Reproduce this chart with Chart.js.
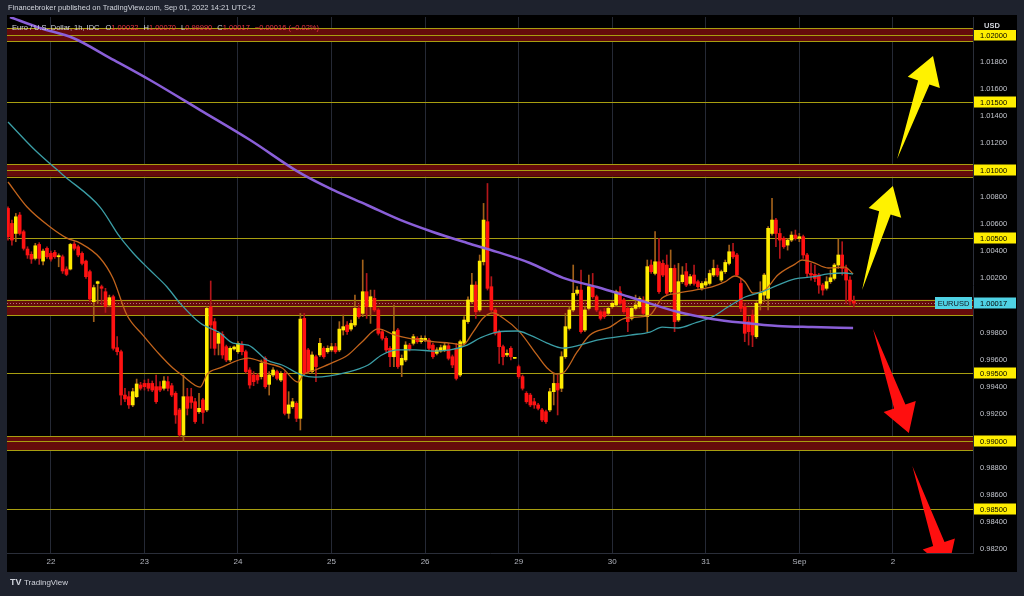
<!DOCTYPE html>
<html lang="en">

<head>
    <meta charset="utf-8" />
    <title>Euro / U.S. Dollar, 1h</title>
    <script src="https://cdn.jsdelivr.net/npm/chart.js@4.4.0/dist/chart.umd.min.js"></script>
    <style>
        html, body { margin: 0; padding: 0; background: #1e222d; }
        canvas { display: block; }
    </style>
</head>

<body>
    <canvas id="myChart" width="1024" height="596"></canvas>

    <script>
        // hourly candles, index 0 = first visible bar, index 217 = Sep 01 14:00
        const opens = [
            1.00717, 1.00606, 1.00532, 1.00668, 1.00545, 1.00417, 1.00378, 1.00348, 1.00451, 1.00328,
            1.00422, 1.00385, 1.00392, 1.00360, 1.00360, 1.00269, 1.00269, 1.00454, 1.00434, 1.00385,
            1.00328, 1.00250, 1.00028, 1.00163, 1.00139, 1.00102, 1.00004, 1.00065, 0.99689, 0.99659,
            0.99339, 0.99327, 0.99266, 0.99327, 0.99413, 0.99425, 0.99425, 0.99425, 0.99401, 0.99401,
            0.99389, 0.99438, 0.99408, 0.99352, 0.99229, 0.99044, 0.99327, 0.99327, 0.99290, 0.99216,
            0.99303, 0.99229, 0.99991, 0.99881, 0.99721, 0.99787, 0.99696, 0.99598, 0.99679, 0.99659,
            0.99713, 0.99659, 0.99524, 0.99487, 0.99487, 0.99475, 0.99610, 0.99418, 0.99487, 0.99512,
            0.99450, 0.99499, 0.99204, 0.99253, 0.99278, 0.99167, 0.99905, 0.99672, 0.99512, 0.99622,
            0.99635, 0.99684, 0.99659, 0.99672, 0.99696, 0.99672, 0.99819, 0.99856, 0.99826, 0.99856,
            0.99979, 0.99942, 1.00102, 0.99991, 1.00053, 0.99967, 0.99807, 0.99758, 0.99684, 0.99622,
            0.99819, 0.99561, 0.99598, 0.99708, 0.99721, 0.99758, 0.99733, 0.99745, 0.99745, 0.99708,
            0.99647, 0.99664, 0.99672, 0.99703, 0.99622, 0.99684, 0.99487, 0.99721, 0.99881, 1.00028,
            1.00151, 0.99967, 1.00323, 1.00619, 1.00139, 0.99967, 0.99807, 0.99696, 0.99635, 0.99684,
            0.99610, 0.99549, 0.99475, 0.99352, 0.99339, 0.99290, 0.99266, 0.99229, 0.99216, 0.99229,
            0.99364, 0.99425, 0.99389, 0.99622, 0.99831, 0.99967, 1.00090, 1.00114, 0.99819, 0.99979,
            1.00139, 1.00065, 0.99954, 0.99954, 0.99942, 0.99991, 1.00004, 1.00102, 1.00041, 0.99979,
            0.99905, 0.99979, 0.99991, 1.00041, 0.99918, 1.00299, 1.00237, 1.00323, 1.00311, 1.00299,
            1.00102, 1.00274, 0.99893, 1.00176, 1.00250, 1.00163, 1.00225, 1.00176, 1.00127, 1.00151,
            1.00163, 1.00225, 1.00274, 1.00188, 1.00250, 1.00311, 1.00397, 1.00373, 1.00163, 0.99991,
            0.99881, 0.99930, 0.99770, 1.00016, 1.00077, 1.00053, 1.00532, 1.00631, 1.00532, 1.00496,
            1.00446, 1.00483, 1.00520, 1.00496, 1.00508, 1.00373, 1.00237, 1.00230, 1.00225, 1.00151,
            1.00127, 1.00176, 1.00200, 1.00299, 1.00373, 1.00274, 1.00188, 1.00032
        ];
        const highs = [
            1.00729, 1.00631, 1.00680, 1.00687, 1.00557, 1.00434, 1.00397, 1.00459, 1.00464, 1.00417,
            1.00434, 1.00402, 1.00407, 1.00382, 1.00373, 1.00286, 1.00459, 1.00471, 1.00446, 1.00397,
            1.00336, 1.00262, 1.00151, 1.00181, 1.00151, 1.00127, 1.00077, 1.00077, 0.99770, 0.99671,
            0.99389, 0.99364, 0.99389, 0.99457, 0.99433, 0.99450, 0.99457, 0.99443, 0.99487, 0.99438,
            0.99475, 0.99475, 0.99425, 0.99364, 0.99241, 0.99487, 0.99389, 0.99389, 0.99315, 0.99352,
            0.99315, 0.99991, 1.00181, 0.99905, 0.99807, 0.99807, 0.99708, 0.99696, 0.99703, 0.99733,
            0.99733, 0.99671, 0.99541, 0.99512, 0.99499, 0.99598, 0.99622, 0.99512, 0.99541, 0.99524,
            0.99512, 0.99512, 0.99364, 0.99315, 0.99290, 0.99942, 0.99942, 0.99684, 0.99659, 0.99635,
            0.99758, 0.99696, 0.99703, 0.99721, 0.99721, 0.99881, 0.99930, 0.99881, 0.99893, 1.00077,
            1.00004, 1.00336, 1.00237, 1.00114, 1.00114, 0.99979, 0.99819, 0.99770, 0.99696, 1.00004,
            0.99831, 0.99635, 0.99733, 0.99721, 0.99787, 0.99770, 0.99777, 0.99777, 0.99758, 0.99721,
            0.99689, 0.99708, 0.99721, 0.99721, 0.99635, 0.99721, 0.99745, 0.99918, 1.00065, 1.00237,
            1.00176, 1.00373, 1.00754, 1.00901, 1.00213, 0.99979, 0.99819, 0.99708, 0.99672, 0.99696,
            0.99615, 0.99561, 0.99487, 0.99364, 0.99352, 0.99315, 0.99278, 0.99241, 0.99229, 0.99389,
            0.99499, 0.99487, 0.99659, 0.99942, 0.99991, 1.00299, 1.00139, 1.00262, 0.99991, 1.00225,
            1.00237, 1.00077, 0.99967, 0.99979, 0.99991, 1.00028, 1.00114, 1.00139, 1.00053, 0.99991,
            0.99991, 1.00077, 1.00065, 1.00065, 1.00336, 1.00336, 1.00545, 1.00496, 1.00336, 1.00373,
            1.00410, 1.00299, 1.00311, 1.00287, 1.00311, 1.00230, 1.00299, 1.00188, 1.00176, 1.00200,
            1.00262, 1.00336, 1.00299, 1.00262, 1.00336, 1.00446, 1.00459, 1.00385, 1.00200, 1.00016,
            0.99918, 0.99967, 1.00028, 1.00176, 1.00237, 1.00582, 1.00791, 1.00643, 1.00569, 1.00508,
            1.00496, 1.00545, 1.00557, 1.00532, 1.00520, 1.00385, 1.00311, 1.00299, 1.00237, 1.00163,
            1.00213, 1.00262, 1.00311, 1.00491, 1.00471, 1.00299, 1.00213, 1.00070
        ];
        const lows = [
            1.00483, 1.00446, 1.00471, 1.00520, 1.00409, 1.00348, 1.00311, 1.00336, 1.00304, 1.00299,
            1.00348, 1.00328, 1.00348, 1.00286, 1.00237, 1.00220, 1.00262, 1.00409, 1.00360, 1.00299,
            1.00200, 1.00028, 0.99881, 1.00016, 1.00004, 0.99949, 0.99991, 0.99671, 0.99635, 0.99266,
            0.99290, 0.99241, 0.99253, 0.99320, 0.99376, 0.99376, 0.99369, 0.99364, 0.99278, 0.99364,
            0.99376, 0.99369, 0.99327, 0.99130, 0.99032, 0.98995, 0.99192, 0.99241, 0.99130, 0.99204,
            0.99130, 0.99216, 0.99684, 0.99635, 0.99635, 0.99610, 0.99585, 0.99585, 0.99671, 0.99647,
            0.99635, 0.99499, 0.99389, 0.99408, 0.99425, 0.99457, 0.99389, 0.99339, 0.99475, 0.99450,
            0.99438, 0.99192, 0.99167, 0.99241, 0.99143, 0.99081, 0.99487, 0.99499, 0.99499, 0.99438,
            0.99622, 0.99610, 0.99647, 0.99659, 0.99647, 0.99659, 0.99782, 0.99787, 0.99812, 0.99844,
            0.99905, 0.99918, 0.99905, 0.99868, 0.99954, 0.99782, 0.99745, 0.99659, 0.99549, 0.99549,
            0.99536, 0.99475, 0.99585, 0.99664, 0.99708, 0.99721, 0.99721, 0.99733, 0.99672, 0.99610,
            0.99635, 0.99654, 0.99659, 0.99598, 0.99541, 0.99450, 0.99475, 0.99708, 0.99868, 1.00016,
            0.99905, 0.99954, 1.00299, 1.00114, 0.99954, 0.99782, 0.99573, 0.99561, 0.99622, 0.99598,
            0.99610, 0.99462, 0.99376, 0.99278, 0.99253, 0.99241, 0.99229, 0.99143, 0.99130, 0.99216,
            0.99266, 0.99192, 0.99364, 0.99610, 0.99819, 0.99954, 1.00077, 0.99795, 0.99807, 0.99967,
            1.00053, 0.99954, 0.99893, 0.99905, 0.99930, 0.99979, 0.99991, 1.00004, 0.99942, 0.99807,
            0.99893, 0.99967, 0.99979, 0.99930, 0.99807, 1.00237, 1.00225, 1.00090, 1.00213, 1.00077,
            1.00090, 0.99807, 0.99881, 1.00163, 1.00139, 1.00151, 1.00151, 1.00127, 1.00114, 1.00139,
            1.00151, 1.00213, 1.00213, 1.00176, 1.00237, 1.00299, 1.00348, 1.00213, 0.99954, 0.99733,
            0.99708, 0.99696, 0.99758, 0.99967, 1.00028, 0.99967, 1.00520, 1.00434, 1.00348, 1.00422,
            1.00409, 1.00471, 1.00483, 1.00471, 1.00348, 1.00213, 1.00188, 1.00176, 1.00090, 1.00077,
            1.00114, 1.00163, 1.00188, 1.00274, 1.00225, 1.00016, 1.00004, 0.99990
        ];
        const closes = [
            1.00508, 1.00483, 1.00655, 1.00532, 1.00422, 1.00373, 1.00343, 1.00441, 1.00348, 1.00402,
            1.00360, 1.00343, 1.00360, 1.00368, 1.00255, 1.00230, 1.00451, 1.00422, 1.00373, 1.00311,
            1.00213, 1.00048, 1.00132, 1.00176, 1.00127, 0.99991, 1.00058, 0.99684, 0.99659, 0.99339,
            0.99310, 0.99266, 0.99364, 0.99421, 0.99389, 0.99401, 0.99389, 0.99376, 0.99290, 0.99376,
            0.99443, 0.99389, 0.99339, 0.99192, 0.99044, 0.99327, 0.99241, 0.99285, 0.99143, 0.99241,
            0.99211, 0.99979, 0.99856, 0.99684, 0.99795, 0.99635, 0.99598, 0.99684, 0.99694, 0.99721,
            0.99659, 0.99512, 0.99413, 0.99438, 0.99450, 0.99573, 0.99401, 0.99487, 0.99524, 0.99462,
            0.99499, 0.99204, 0.99266, 0.99290, 0.99167, 0.99900, 0.99499, 0.99512, 0.99635, 0.99549,
            0.99721, 0.99622, 0.99684, 0.99696, 0.99659, 0.99826, 0.99844, 0.99807, 0.99868, 0.99979,
            0.99918, 1.00102, 0.99991, 1.00065, 0.99967, 0.99795, 0.99758, 0.99672, 0.99622, 0.99807,
            0.99549, 0.99610, 0.99708, 0.99679, 0.99770, 0.99733, 0.99758, 0.99758, 0.99684, 0.99622,
            0.99672, 0.99689, 0.99703, 0.99610, 0.99561, 0.99462, 0.99733, 0.99893, 1.00041, 1.00151,
            0.99954, 1.00328, 1.00631, 1.00127, 0.99967, 0.99795, 0.99696, 0.99622, 0.99647, 0.99622,
            0.99615, 0.99475, 0.99389, 0.99290, 0.99266, 0.99266, 0.99241, 0.99155, 0.99143, 0.99364,
            0.99425, 0.99376, 0.99622, 0.99844, 0.99967, 1.00090, 1.00114, 0.99807, 0.99967, 1.00139,
            1.00065, 0.99967, 0.99905, 0.99918, 0.99979, 1.00016, 1.00102, 1.00016, 0.99954, 0.99881,
            0.99979, 1.00004, 1.00053, 0.99942, 1.00287, 1.00250, 1.00323, 1.00102, 1.00225, 1.00090,
            1.00274, 0.99881, 1.00176, 1.00225, 1.00151, 1.00213, 1.00163, 1.00139, 1.00163, 1.00176,
            1.00237, 1.00274, 1.00225, 1.00250, 1.00318, 1.00397, 1.00360, 1.00225, 0.99979, 0.99795,
            0.99807, 0.99782, 1.00016, 1.00090, 1.00225, 1.00570, 1.00631, 1.00532, 1.00483, 1.00434,
            1.00483, 1.00520, 1.00496, 1.00508, 1.00373, 1.00237, 1.00225, 1.00200, 1.00151, 1.00114,
            1.00176, 1.00205, 1.00299, 1.00373, 1.00274, 1.00188, 1.00033, 1.00017
        ];

        // moving averages (x = bar index)
        const ma20X = [0, 4.9, 10.8, 15.1, 18.5, 23.6, 26.9, 30.5, 34.6, 39.0, 42.3, 44.6, 49.3, 51.1, 54.4, 61.6,
            65.9, 70.3, 74.4, 75.7, 78.8, 83.1, 87.2, 90.8, 94.9, 99.3, 102.6, 106.2, 109.5, 113.4, 116.7, 119.3,
            121.9, 124.4, 127.0, 131.3, 135.7, 138.3, 140.8, 142.4, 146.0, 149.3, 154.4, 157.8, 161.4, 164.7,
            167.8, 171.9, 176.2, 180.6, 183.9, 186.5, 189.1, 191.1, 194.2, 197.5, 201.9, 203.7, 206.3, 210.4,
            214.7, 216.8];
        const ma20Y = [1.00912, 1.00727, 1.00580, 1.00498, 1.00461, 1.00351, 1.00203, 0.99930, 0.99782, 0.99635,
            0.99539, 0.99487, 0.99398, 0.99494, 0.99539, 0.99612, 0.99576, 0.99539, 0.99435, 0.99487, 0.99524,
            0.99576, 0.99635, 0.99731, 0.99827, 0.99782, 0.99760, 0.99745, 0.99731, 0.99723, 0.99708, 0.99804,
            0.99908, 0.99945, 0.99908, 0.99804, 0.99635, 0.99539, 0.99494, 0.99502, 0.99657, 0.99782, 0.99841,
            0.99901, 0.99915, 0.99930, 1.00055, 1.00092, 1.00114, 1.00137, 1.00174, 1.00218, 1.00174, 1.00092,
            1.00114, 1.00225, 1.00306, 1.00336, 1.00321, 1.00277, 1.00284, 1.00233];

        const ma50X = [0, 6.9, 14.1, 23.6, 28.7, 32.1, 36.4, 40.8, 44.1, 49.3, 54.4, 57.7, 61.6, 66.4, 70.3, 75.4,
            78.8, 87.2, 92.4, 95.9, 100.1, 104.4, 109.5, 113.4, 117.8, 121.1, 125.4, 130.6, 133.9, 138.3, 142.4,
            146.7, 151.1, 159.6, 164.7, 167.8, 171.9, 176.2, 180.6, 184.7, 189.1, 193.4, 197.5, 201.9, 206.3,
            210.4, 214.7, 216.8];
        const ma50Y = [1.01355, 1.01148, 1.00964, 1.00727, 1.00506, 1.00388, 1.00262, 1.00137, 1.00018, 0.99871,
            0.99797, 0.99723, 0.99708, 0.99598, 0.99561, 0.99487, 0.99472, 0.99509, 0.99561, 0.99635, 0.99672,
            0.99672, 0.99664, 0.99672, 0.99708, 0.99760, 0.99804, 0.99812, 0.99782, 0.99723, 0.99686, 0.99708,
            0.99745, 0.99782, 0.99804, 0.99841, 0.99834, 0.99871, 0.99915, 0.99989, 1.00063, 1.00100, 1.00151,
            1.00196, 1.00211, 1.00233, 1.00240, 1.00233];

        const ma200X = [0.5, 8.2, 16.7, 26.2, 36.4, 49.3, 62.1, 74.9, 83.4, 92.1, 100.6, 109, 117.8, 125.4, 133.9,
            142.4, 151.1, 159.5, 171.9, 180.6, 189.1, 197.5, 206.3, 216.8];
        const ma200Y = [1.02130, 1.02049, 1.01975, 1.01827, 1.01665, 1.01443, 1.01222, 1.00979, 1.00853, 1.00742,
            1.00632, 1.00543, 1.00462, 1.00396, 1.00314, 1.00204, 1.00137, 1.00063, 0.99952, 0.99901, 0.99871,
            0.99849, 0.99841, 0.99834];

        // axis ticks
        const dayTicks = [11, 35, 59, 83, 107, 131, 155, 179, 203, 227];
        const dayLabels = ["22", "23", "24", "25", "26", "29", "30", "31", "Sep", "2"];
        const priceTicks = [1.020, 1.018, 1.016, 1.014, 1.012, 1.010, 1.008, 1.006, 1.004, 1.002, 1.000,
            0.998, 0.996, 0.994, 0.992, 0.990, 0.988, 0.986, 0.984, 0.982];

        // drawn levels and zones
        const levels = [1.015, 1.005, 0.995, 0.985];
        const zoneMid = [1.020, 1.010, 1.000, 0.990];
        const zoneTop = [1.02049, 1.01045, 1.00043, 0.99036];
        const zoneBottom = [1.01953, 1.00951, 0.99928, 0.98933];
        const levelLabels = [1.020, 1.015, 1.010, 1.005, 0.995, 0.990, 0.985];
        const lastPrice = 1.00017;

        // arrows: tail and tip in (bar index, price)
        const arrowTailX = [228.1, 219.1, 221.9, 232.0];
        const arrowTailY = [1.01082, 1.00114, 0.99827, 0.98815];
        const arrowTipX = [237.3, 227.0, 231.1, 241.1];
        const arrowTipY = [1.01842, 1.00882, 0.99059, 0.98044];
        const arrowUp = [true, true, false, false];

        const FONT = "'Liberation Sans', Arial, sans-serif";
        const UP = "#ffec00";
        const DOWN = "#ff1212";
        const WICK_UP = "#a2611a";
        const WICK_DOWN = "#b3161a";
        const ZONE_FILL = "#650b0b";
        const LEVEL = "#a89e10";
        const RED_TEXT = "#f23645";
        const CYAN = "#4fd2e4";

        let bodyColors = opens.map((o, i) => (closes[i] >= o ? UP : DOWN));
        let wickColors = opens.map((o, i) => (closes[i] >= o ? WICK_UP : WICK_DOWN));

        let toPoints = (xs, ys) => xs.map((x, i) => ({ x: x, y: ys[i] }));

        let hline = (ctx, a, py, color) => {
            ctx.strokeStyle = color;
            ctx.lineWidth = 1;
            ctx.beginPath();
            ctx.moveTo(a.left, Math.round(py) + 0.5);
            ctx.lineTo(a.right, Math.round(py) + 0.5);
            ctx.stroke();
        };

        let drawArrow = (ctx, x0, y0, x1, y1, color) => {
            let dx = x1 - x0, dy = y1 - y0;
            let len = Math.hypot(dx, dy);
            let ux = dx / len, uy = dy / len;
            let nx = -uy, ny = ux;
            let bx = x1 - ux * 28, by = y1 - uy * 28;
            ctx.fillStyle = color;
            ctx.beginPath();
            ctx.moveTo(x0, y0);
            ctx.lineTo(bx + nx * 6, by + ny * 6);
            ctx.lineTo(bx + nx * 17, by + ny * 17);
            ctx.lineTo(x1, y1);
            ctx.lineTo(bx - nx * 17, by - ny * 17);
            ctx.lineTo(bx - nx * 6, by - ny * 6);
            ctx.closePath();
            ctx.fill();
        };

        let axisBox = (ctx, left, py, text, bg) => {
            ctx.fillStyle = bg;
            ctx.fillRect(left + 1, Math.round(py) - 5.5, 42, 11);
            ctx.fillStyle = "#000000";
            ctx.font = "7.5px " + FONT;
            ctx.textAlign = "left";
            ctx.textBaseline = "middle";
            ctx.fillText(text, left + 7, Math.round(py) + 0.5);
        };

        const decor = {
            id: "decor",
            beforeDraw: (chart) => {
                let ctx = chart.ctx, a = chart.chartArea;
                ctx.save();
                ctx.fillStyle = "#1e222d";
                ctx.fillRect(0, 0, chart.width, chart.height);
                ctx.fillStyle = "#000000";
                ctx.fillRect(a.left, a.top - 2, a.right - a.left + 44, a.bottom - a.top + 21);
                ctx.restore();
            },
            beforeDatasetsDraw: (chart) => {
                let ctx = chart.ctx, a = chart.chartArea, y = chart.scales.y;
                ctx.save();
                ctx.beginPath();
                ctx.rect(a.left, a.top, a.right - a.left, a.bottom - a.top);
                ctx.clip();
                zoneMid.forEach((m, k) => {
                    let yt = y.getPixelForValue(zoneTop[k]);
                    let yb = y.getPixelForValue(zoneBottom[k]);
                    ctx.fillStyle = ZONE_FILL;
                    ctx.fillRect(a.left, yt, a.right - a.left, yb - yt);
                    hline(ctx, a, yt, LEVEL);
                    hline(ctx, a, y.getPixelForValue(m), LEVEL);
                    hline(ctx, a, yb, LEVEL);
                });
                levels.forEach((v) => hline(ctx, a, y.getPixelForValue(v), LEVEL));

                // last price dotted line
                let py = Math.round(y.getPixelForValue(lastPrice)) + 0.5;
                ctx.setLineDash([1, 2]);
                ctx.strokeStyle = "#b86f78";
                ctx.beginPath();
                ctx.moveTo(a.left, py);
                ctx.lineTo(a.right - 38, py);
                ctx.stroke();
                ctx.restore();
            },
            afterDatasetsDraw: (chart) => {
                let ctx = chart.ctx, a = chart.chartArea;
                let x = chart.scales.x, y = chart.scales.y;
                ctx.save();
                ctx.beginPath();
                ctx.rect(a.left, a.top, a.right - a.left, a.bottom - a.top);
                ctx.clip();
                arrowTailX.forEach((tx, k) => {
                    drawArrow(ctx,
                        x.getPixelForValue(tx), y.getPixelForValue(arrowTailY[k]),
                        x.getPixelForValue(arrowTipX[k]), y.getPixelForValue(arrowTipY[k]),
                        arrowUp[k] ? "#fff200" : "#ff0f0f");
                });
                ctx.restore();

                ctx.save();
                // legend line of the symbol
                let parts = [
                    ["Euro / U.S. Dollar, 1h, IDC", "#d1d4dc", 6],
                    ["O", "#d1d4dc", 0], ["1.00032", RED_TEXT, 5],
                    ["H", "#d1d4dc", 0], ["1.00070", RED_TEXT, 5],
                    ["L", "#d1d4dc", 0], ["0.99990", RED_TEXT, 5],
                    ["C", "#d1d4dc", 0], ["1.00017", RED_TEXT, 5],
                    ["\u22120.00016 (\u22120.02%)", RED_TEXT, 0]
                ];
                ctx.font = "7.5px " + FONT;
                ctx.textBaseline = "middle";
                ctx.textAlign = "left";
                let px = a.left + 5;
                parts.forEach((p) => {
                    ctx.fillStyle = p[1];
                    ctx.fillText(p[0], px, a.top + 11);
                    px += ctx.measureText(p[0]).width + p[2];
                });

                // right axis labels
                let axLeft = a.right;
                levelLabels.forEach((v) => axisBox(ctx, axLeft, y.getPixelForValue(v), v.toFixed(5), "#ffee00"));
                axisBox(ctx, axLeft, y.getPixelForValue(lastPrice), lastPrice.toFixed(5), CYAN);
                ctx.fillStyle = "#000000";
                ctx.fillRect(axLeft + 1, a.top - 2, 43, 15);
                ctx.fillStyle = "#d1d4dc";
                ctx.font = "bold 7.5px " + FONT;
                ctx.textAlign = "left";
                ctx.fillText("USD", axLeft + 11, a.top + 9);

                // series tag
                let py = Math.round(y.getPixelForValue(lastPrice));
                ctx.fillStyle = CYAN;
                ctx.fillRect(axLeft - 38, py - 6, 37, 12);
                ctx.fillStyle = "#131722";
                ctx.font = "7.5px " + FONT;
                ctx.textAlign = "center";
                ctx.fillText("EURUSD", axLeft - 19.5, py + 0.5);

                // header and footer
                ctx.textAlign = "left";
                ctx.fillStyle = "#d1d4dc";
                ctx.font = "7.5px " + FONT;
                ctx.fillText("Financebroker published on TradingView.com, Sep 01, 2022 14:21 UTC+2", 8, 8);
                ctx.font = "bold 9px " + FONT;
                ctx.fillText("TV", 10, 583);
                ctx.font = "8px " + FONT;
                ctx.fillText("TradingView", 24, 583);
                ctx.restore();
            }
        };

        let showChart = () => {
            let ctx = document.getElementById("myChart");
            new Chart(ctx, {
                type: "bar",
                data: {
                    datasets: [
                        {
                            type: "line",
                            label: "MA 200",
                            data: toPoints(ma200X, ma200Y),
                            borderColor: "#8a5fd8",
                            borderWidth: 2.5,
                            pointRadius: 0,
                            cubicInterpolationMode: "monotone",
                            clip: 0,
                            order: 0,
                        },
                        {
                            type: "line",
                            label: "MA 50",
                            data: toPoints(ma50X, ma50Y),
                            borderColor: "#3b9ea6",
                            borderWidth: 1.3,
                            pointRadius: 0,
                            cubicInterpolationMode: "monotone",
                            clip: 0,
                            order: 0,
                        },
                        {
                            type: "line",
                            label: "MA 20",
                            data: toPoints(ma20X, ma20Y),
                            borderColor: "#c2641c",
                            borderWidth: 1.3,
                            pointRadius: 0,
                            cubicInterpolationMode: "monotone",
                            clip: 0,
                            order: 0,
                        },
                        {
                            label: "Body",
                            data: opens.map((o, i) => ({ x: i, y: [o, closes[i]] })),
                            backgroundColor: bodyColors,
                            borderWidth: 0,
                            barThickness: 3,
                            minBarLength: 1,
                            grouped: false,
                            order: 1,
                        },
                        {
                            label: "Wick",
                            data: lows.map((l, i) => ({ x: i, y: [l, highs[i]] })),
                            backgroundColor: wickColors,
                            borderWidth: 0,
                            barThickness: 1,
                            minBarLength: 1,
                            grouped: false,
                            order: 2,
                        },
                    ],
                },
                options: {
                    responsive: false,
                    devicePixelRatio: 1,
                    animation: false,
                    events: [],
                    layout: { padding: { left: 7, top: 17, right: 6, bottom: 24 } },
                    plugins: {
                        legend: { display: false },
                        tooltip: { enabled: false },
                    },
                    scales: {
                        x: {
                            type: "linear",
                            min: -0.26,
                            max: 247.56,
                            offset: false,
                            afterBuildTicks: (s) => { s.ticks = dayTicks.map((v) => ({ value: v })); },
                            afterFit: (s) => { s.height = 19; },
                            ticks: {
                                color: "#b2b5be",
                                font: { family: FONT, size: 8 },
                                padding: 4,
                                maxRotation: 0,
                                autoSkip: false,
                                callback: (v, i) => dayLabels[i],
                            },
                            grid: { color: "#252935", drawTicks: false, offset: false },
                            border: { color: "#2a2e39" },
                        },
                        y: {
                            type: "linear",
                            position: "right",
                            min: 0.98173,
                            max: 1.02130,
                            afterBuildTicks: (s) => { s.ticks = priceTicks.map((v) => ({ value: v })); },
                            afterFit: (s) => { s.width = 45; },
                            ticks: {
                                color: "#c3c6ce",
                                font: { family: FONT, size: 7.5 },
                                padding: 7,
                                autoSkip: false,
                                callback: (v) => v.toFixed(5),
                            },
                            grid: { display: false, drawTicks: false },
                            border: { color: "#2a2e39" },
                        },
                    },
                },
                plugins: [decor],
            });
        };

        showChart();
    </script>
</body>

</html>
